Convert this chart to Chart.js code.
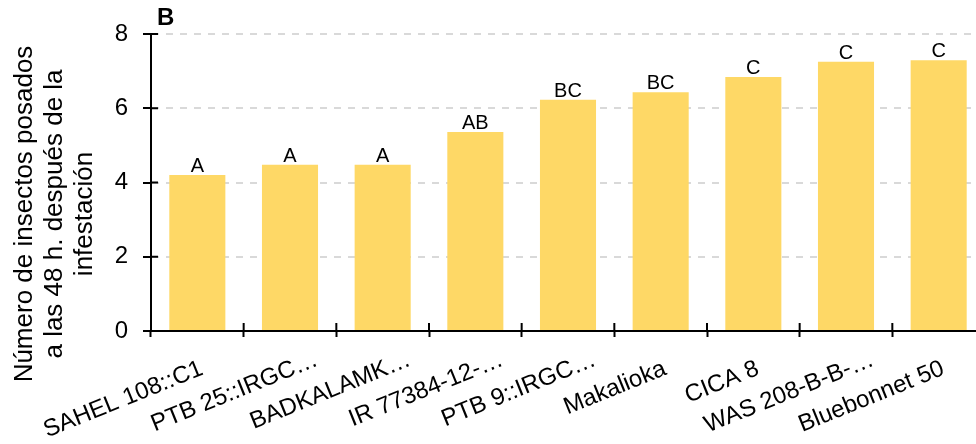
<!DOCTYPE html>
<html>
<head>
<meta charset="utf-8">
<script src="https://cdn.jsdelivr.net/npm/chart.js@4"></script>
<style>
  html, body { margin: 0; padding: 0; overflow: hidden; background: #fff; }
  #wrap { width: 985px; height: 444px; position: relative; }
</style>
</head>
<body>
<div id="wrap"><canvas id="c"></canvas></div>
<script>
// Rice varieties and mean number of settled insects 48 h after infestation
const varieties = ['SAHEL 108::C1', 'PTB 25::IRGC…', 'BADKALAMK…', 'IR 77384-12-…', 'PTB 9::IRGC…', 'Makalioka', 'CICA 8', 'WAS 208-B-B-…', 'Bluebonnet 50'];
const insectsAt48h = [4.20, 4.48, 4.48, 5.36, 6.23, 6.43, 6.84, 7.25, 7.29];
const groupLetters = ['A', 'A', 'A', 'AB', 'BC', 'BC', 'C', 'C', 'C'];
const yTicks = [0, 2, 4, 6, 8];
const panelLabel = 'B';
const yTitleLines = ['Número de insectos posados', 'a las 48 h. después de la', 'infestación'];

const FONT = '"Liberation Sans", Arial, sans-serif';
const LABEL_ANGLE = 22 * Math.PI / 180;

// Short tick marks that also reach inside the plot area
const innerTicks = {
  id: 'innerTicks',
  afterDraw(chart) {
    const { ctx, chartArea: a, scales: { x, y } } = chart;
    ctx.save();
    ctx.strokeStyle = '#000';
    ctx.lineWidth = 2;
    ctx.beginPath();
    y.ticks.forEach((t, i) => {
      const py = y.getPixelForTick(i);
      ctx.moveTo(a.left, py);
      ctx.lineTo(a.left + 7, py);
    });
    for (let i = 0; i <= varieties.length; i++) {
      const px = x.getPixelForValue(i - 0.5);
      ctx.moveTo(px, a.bottom);
      ctx.lineTo(px, a.bottom - 8);
    }
    ctx.stroke();
    ctx.restore();
  }
};

// Rotated category labels; a trailing ellipsis hangs past the tick
const categoryLabels = {
  id: 'categoryLabels',
  afterDraw(chart) {
    const { ctx, chartArea: a, scales: { x } } = chart;
    ctx.save();
    ctx.font = '24px ' + FONT;
    ctx.fillStyle = '#000';
    ctx.textAlign = 'left';
    ctx.textBaseline = 'alphabetic';
    varieties.forEach((label, i) => {
      const px = x.getPixelForValue(i);
      const core = label.endsWith('…') ? label.slice(0, -1) : label;
      const w = ctx.measureText(core).width;
      ctx.save();
      ctx.translate(px + 7, a.bottom + 43);
      ctx.rotate(-LABEL_ANGLE);
      ctx.fillText(label, -w, 0);
      ctx.restore();
    });
    ctx.restore();
  }
};

// Significance letters above each bar
const barLetters = {
  id: 'barLetters',
  afterDatasetsDraw(chart) {
    const { ctx } = chart;
    const meta = chart.getDatasetMeta(0);
    ctx.save();
    ctx.font = '20px ' + FONT;
    ctx.fillStyle = '#000';
    ctx.textAlign = 'center';
    ctx.textBaseline = 'alphabetic';
    meta.data.forEach((bar, i) => {
      ctx.fillText(groupLetters[i], bar.x, bar.y - 3);
    });
    ctx.restore();
  }
};

// Panel letter and multi-line y-axis title
const annotations = {
  id: 'annotations',
  afterDraw(chart) {
    const { ctx, chartArea: a } = chart;
    ctx.save();
    ctx.fillStyle = '#000';
    ctx.font = 'bold 24px ' + FONT;
    ctx.textAlign = 'left';
    ctx.textBaseline = 'alphabetic';
    ctx.fillText(panelLabel, a.left + 6, 25);

    ctx.font = '26px ' + FONT;
    ctx.textAlign = 'center';
    ctx.textBaseline = 'alphabetic';
    const cy = 214;
    yTitleLines.forEach((line, i) => {
      ctx.save();
      ctx.translate(31.5 + i * 30, cy);
      ctx.rotate(-Math.PI / 2);
      ctx.fillText(line, 0, 0);
      ctx.restore();
    });
    ctx.restore();
  }
};

new Chart(document.getElementById('c'), {
  type: 'bar',
  data: {
    labels: varieties,
    datasets: [{
      data: insectsAt48h,
      backgroundColor: '#FED866',
      borderWidth: 0,
      barPercentage: 0.605,
      categoryPercentage: 1
    }]
  },
  options: {
    responsive: true,
    maintainAspectRatio: false,
    animation: false,
    layout: { padding: { top: 34, right: 0, left: 0, bottom: 0 } },
    plugins: { legend: { display: false }, tooltip: { enabled: false } },
    scales: {
      x: {
        offset: true,
        afterFit(s) { s.height = 113; },
        grid: {
          display: true,
          offset: true,
          drawOnChartArea: false,
          drawTicks: true,
          tickLength: 6,
          tickColor: '#000',
          tickWidth: 2
        },
        border: { display: true, color: '#000', width: 2 },
        ticks: { display: false }
      },
      y: {
        min: 0,
        max: 8,
        afterFit(s) { s.width = 151; },
        afterBuildTicks(s) { s.ticks = yTicks.map(v => ({ value: v })); },
        grid: {
          color: '#d9d9d9',
          lineWidth: 2,
          drawTicks: true,
          tickLength: 8,
          tickColor: '#000',
          tickWidth: 2,
          tickBorderDash: []
        },
        border: { display: true, color: '#000', width: 2, dash: [7, 7] },
        ticks: {
          color: '#000',
          font: { family: FONT, size: 24 },
          padding: 15
        }
      }
    }
  },
  plugins: [innerTicks, categoryLabels, barLetters, annotations]
});
</script>
</body>
</html>
